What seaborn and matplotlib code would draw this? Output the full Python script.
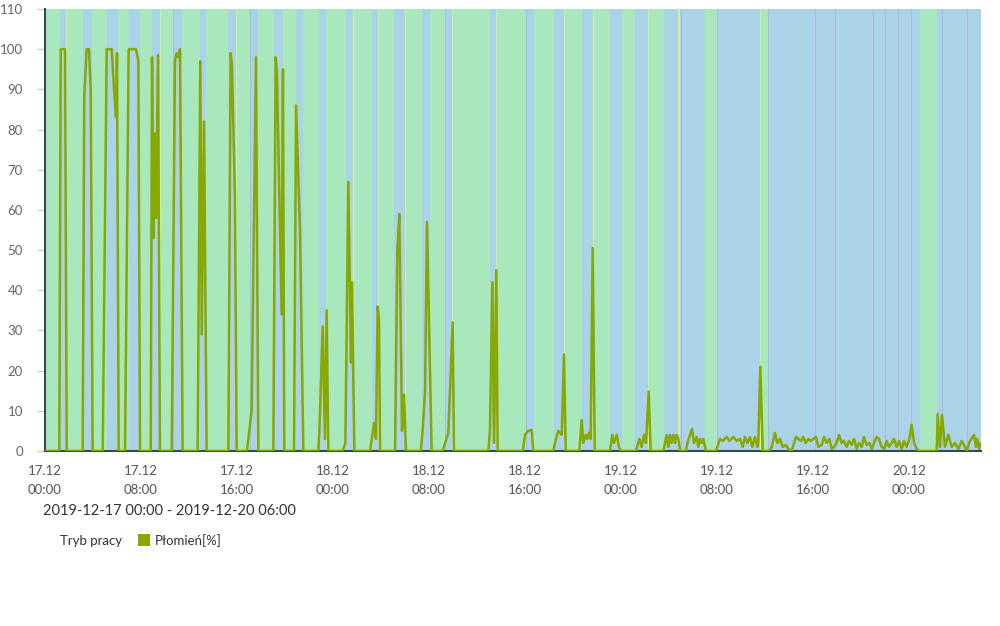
import matplotlib
matplotlib.use("Agg")
import matplotlib.pyplot as plt
import matplotlib.patches as mpatches
import pandas as pd
import seaborn as sns

# hours since 2019-12-17 00:00
flame_hours = [
    0.0, 1.19, 1.31, 1.67, 1.81,
    3.14, 3.27, 3.47, 3.67, 3.81, 3.97,
    4.81, 5.14, 5.56, 5.75, 5.92, 6.0, 6.14,
    6.67, 6.97, 7.58, 7.78, 7.92,
    8.81, 8.92, 9.03, 9.14, 9.25, 9.42, 9.58,
    10.56, 10.83, 10.96, 11.11, 11.25, 11.47,
    12.72, 12.94, 13.06, 13.25, 13.47,
    15.28, 15.47, 15.58, 15.83, 15.97,
    16.83, 17.22, 17.58, 17.78,
    19.03, 19.22, 19.33, 19.72, 19.83, 19.94,
    20.75, 20.92, 21.25, 21.53,
    22.78, 22.89, 23.14, 23.33, 23.47, 23.61,
    24.81, 25.03, 25.28, 25.5, 25.58, 25.78,
    27.08, 27.28, 27.42, 27.58, 27.72, 27.83, 27.92,
    29.17, 29.36, 29.53, 29.75, 29.92, 30.08,
    31.31, 31.47, 31.67, 31.83, 32.22,
    33.14, 33.61, 33.97, 34.08,
    36.94, 37.08, 37.28, 37.42, 37.61, 37.72,
    39.81, 40.0, 40.25, 40.56, 40.69,
    42.36, 42.58, 42.78, 43.06, 43.25, 43.39,
    44.53, 44.72, 44.86, 45.06, 45.19, 45.33, 45.47, 45.64, 45.81,
    47.08, 47.28, 47.42, 47.64, 47.83, 47.97,
    49.25, 49.53, 49.72, 49.92, 50.08, 50.31, 50.47,
    51.53, 51.67, 51.81, 51.94, 52.08, 52.22, 52.36, 52.5, 52.64, 52.78, 52.92,
    53.42, 53.53, 53.75, 53.92, 54.08, 54.31, 54.44, 54.58, 54.72, 54.86, 55.08,
    55.92, 56.25, 56.47, 56.81, 57.03, 57.36, 57.64, 57.92, 58.14, 58.33,
    58.53, 58.75, 58.94, 59.17, 59.36, 59.44, 59.61, 59.81,
    60.36, 60.56, 60.83, 61.03, 61.25, 61.47, 61.75, 61.94, 62.22, 62.58, 62.78,
    63.0, 63.19, 63.39, 63.61, 63.81, 64.03, 64.25, 64.44, 64.72, 64.92,
    65.14, 65.36, 65.56, 65.75, 65.97, 66.17, 66.39, 66.58, 66.81, 67.0,
    67.22, 67.42, 67.64, 67.83, 68.06, 68.25, 68.47, 68.69, 68.89, 69.08,
    69.31, 69.5, 69.72, 69.92, 70.14, 70.33, 70.56, 70.75, 70.97, 71.17,
    71.39, 71.58, 71.81, 72.03, 72.22, 72.42, 72.64, 72.83,
    74.31, 74.39, 74.58, 74.75, 75.0, 75.28, 75.56, 75.83, 76.11,
    76.39, 76.67, 76.81, 77.08, 77.42, 77.58, 77.69, 77.86, 78.0,
]
flame_pct = [
    0, 0, 100, 100, 0,
    0, 88, 100, 100, 90, 0,
    0, 100, 100, 90, 83, 99, 0,
    0, 100, 100, 97, 0,
    0, 98, 53, 79, 58, 98.5, 0,
    0, 97, 99, 98, 100, 0,
    0, 97, 29, 82, 0,
    0, 99, 96, 63, 0,
    0, 10, 98, 0,
    0, 98, 94, 34, 95, 0,
    0, 86, 55, 0,
    0, 7, 31, 3, 35, 0,
    0, 2, 67, 22, 42, 0,
    0, 4, 7, 3, 36, 33, 0,
    0, 50, 59, 5, 14, 0,
    0, 5, 15, 57, 0,
    0, 4.5, 32, 0,
    0, 5, 42, 2, 45, 0,
    0, 4, 5, 5.2, 0,
    0, 3, 5, 4, 24, 0,
    0, 7.7, 2, 4, 3, 4.5, 3, 50.5, 0,
    0, 4, 2, 4, 1, 0,
    0, 3, 1, 4, 2, 14.8, 0,
    0, 2, 4, 1, 4, 2, 4, 2, 4, 3, 0,
    0, 2, 4, 5.5, 2, 3.5, 1, 3, 2, 3, 0,
    0, 3, 2.5, 3.5, 2.5, 3.5, 2.5, 3, 1, 3.5,
    2, 3.5, 1, 3.5, 1, 2, 21, 0,
    0, 1, 4.5, 2, 3, 1, 1.5, 0.5, 0, 3.5, 3,
    2.5, 3.5, 2, 3, 2.5, 3, 3.5, 1, 1.5, 3.5,
    2, 3, 0.5, 1, 2, 4, 2, 2.5, 1, 2.5,
    1.5, 3, 0.5, 2, 1, 3.5, 1.5, 2, 0.5, 2,
    3.5, 3, 1, 0.5, 2.5, 1, 2, 3, 1, 2.5,
    0.5, 2.5, 1, 3, 6.5, 2, 0.5, 0,
    0, 9.2, 1, 9, 1, 4, 1, 2, 0.5,
    2.5, 1, 0, 2.5, 4, 1, 3, 0.5, 2,
]

# working mode ("Tryb pracy"): start hour of each period and its kind
mode_start = [
    0, 1.25, 1.75, 1.83, 3.17, 3.92, 5.17, 6.08, 7.0, 7.92, 8.92, 9.58, 9.67,
    10.67, 10.79, 11.42, 12.92, 13.42, 15.25, 15.92, 16.0, 17.08, 17.17, 17.75,
    19.08, 19.83, 20.92, 21.5, 22.83, 23.42, 25.08, 25.67, 25.75, 27.25, 27.75,
    27.83, 29.08, 30.0, 30.08, 31.42, 32.08, 33.33, 33.42, 33.92, 34.0, 37.08,
    37.58, 37.67, 40.08, 40.17, 40.75, 42.42, 43.25, 43.33, 44.75, 45.67, 45.75,
    47.08, 48.08, 49.17, 50.25, 50.33, 51.58, 52.75, 52.92, 53.0, 53.08, 55.0,
    56.0, 56.08, 59.58, 59.67, 60.25, 60.33, 64.17, 64.25, 65.83, 65.92, 69.0,
    69.08, 70.0, 70.08, 71.08, 71.17, 72.17, 72.25, 72.92, 74.33, 74.75, 74.83,
    76.83, 76.92,
]
mode_kind = [
    "G", "B", "Y", "G", "B", "G", "B", "G", "B", "G", "B", "Y", "G",
    "P", "B", "G", "B", "G", "B", "Y", "G", "P", "B", "G",
    "B", "G", "B", "G", "B", "G", "B", "Y", "G", "B", "Y",
    "G", "B", "Y", "G", "B", "G", "P", "B", "Y", "G", "B",
    "Y", "G", "P", "B", "G", "B", "Y", "G", "B", "Y", "G",
    "B", "G", "B", "Y", "G", "B", "Y", "B", "P", "B", "G",
    "P", "B", "Y", "G", "P", "B", "P", "B", "P", "B", "P",
    "B", "P", "B", "P", "B", "P", "B", "G", "B", "P", "B",
    "P", "B",
]
mode_colors = {"G": "#a9e8bd", "B": "#abd3e8", "Y": "#d6eca4", "P": "#a9b7e2"}

tick_hours = [0, 8, 16, 24, 32, 40, 48, 56, 64, 72]
tick_labels = ["17.12\n00:00", "17.12\n08:00", "17.12\n16:00", "18.12\n00:00",
               "18.12\n08:00", "18.12\n16:00", "19.12\n00:00", "19.12\n08:00",
               "19.12\n16:00", "20.12\n00:00"]
end_hour = 78

sns.set_theme(style="white")
plt.rcParams['font.family'] = ['Lato', 'DejaVu Sans']

fig = plt.figure(figsize=(10, 6.26), dpi=100)
ax = fig.add_axes([0.045, 0.2796, 0.936, 0.706])

for i, (start, kind) in enumerate(zip(mode_start, mode_kind)):
    end = mode_start[i + 1] if i + 1 < len(mode_start) else end_hour
    ax.axvspan(start, end, color=mode_colors[kind], lw=0, zorder=0)

df = pd.DataFrame({"godz": flame_hours, "plomien": flame_pct})
sns.lineplot(data=df, x="godz", y="plomien", color="#86a800", linewidth=1.8,
             estimator=None, ax=ax, zorder=3)

ax.set_xlim(0, end_hour)
ax.set_ylim(0, 110)
ax.set_yticks(range(0, 111, 10))
ax.set_xticks(tick_hours)
ax.set_xticklabels(tick_labels, linespacing=1.75)
ax.set_xlabel("")
ax.set_ylabel("")
for side in ["top", "right"]:
    ax.spines[side].set_visible(False)
for side in ["left", "bottom"]:
    ax.spines[side].set_color("#3c4650")
    ax.spines[side].set_linewidth(1.5)
    ax.spines[side].set_zorder(2)
ax.tick_params(axis="y", left=True, length=6, color="#cfcfcf", width=1,
               labelcolor="#666666", labelsize=9.5, pad=10)
ax.tick_params(axis="x", bottom=False, labelcolor="#555555", labelsize=9.5, pad=4)

fig.text(0.043, 1 - 511 / 626, "2019-12-17 00:00 - 2019-12-20 06:00",
         va="center", ha="left", fontsize=10.5, color="#333333")
fig.text(0.060, 1 - 541 / 626, "Tryb pracy", va="center", ha="left",
         fontsize=9.5, color="#333333")
fig.patches.append(mpatches.Rectangle((0.138, 1 - 546 / 626), 0.012, 12 / 626,
                                      transform=fig.transFigure,
                                      facecolor="#86a800", edgecolor="none"))
fig.text(0.155, 1 - 541 / 626, "Płomień[%]", va="center", ha="left",
         fontsize=9.5, color="#333333")

fig.savefig("out.png", dpi=100)
